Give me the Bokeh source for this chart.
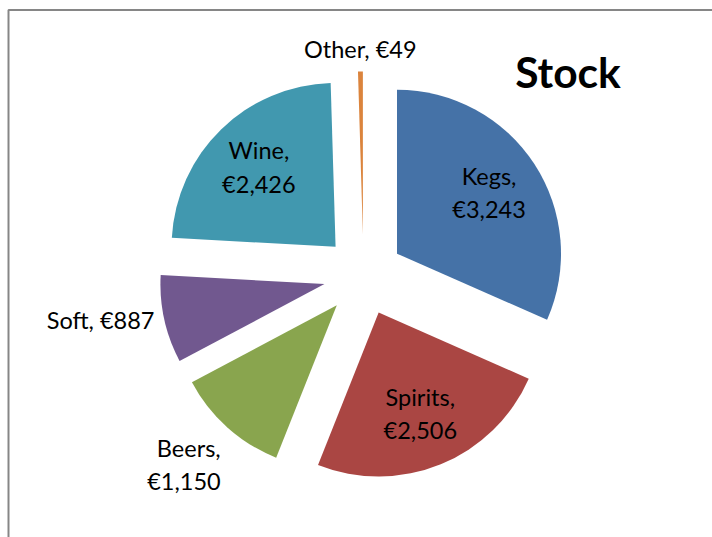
import math
from bokeh.plotting import figure
from bokeh.models import Range1d, ColumnDataSource
from bokeh.core.properties import value
from bokeh.embed import file_html
from bokeh.resources import INLINE

# ---- data ----
categories = ["Kegs", "Spirits", "Beers", "Soft", "Wine", "Other"]
values = [3243, 2506, 1150, 887, 2426, 49]
colors = ["#4572A7", "#AA4643", "#89A54E", "#71588F", "#4198AF", "#DB843D"]
title_text = "Stock"

# ---- layout (screen pixels, y downward) ----
W, H = 712, 537
CX, CY = 363.0, 275.0     # pie centre
R = 164.0                  # radius
EXPLODE = 40.0             # explosion distance
FONT = "Lato"
FS = "23.5px"
CAP = 15.6                 # cap height of label text
LS = 33.4                  # line spacing
GAP = 10.0                 # gap for outside labels
MID_SHIFT = 1.0            # "middle" baseline sits ~1px above cap centre

p = figure(width=W, height=H, output_backend="svg", toolbar_location=None,
           x_range=Range1d(0, W), y_range=Range1d(0, H), min_border=0)
p.axis.visible = False
p.grid.visible = False
p.outline_line_color = None
p.background_fill_color = "white"
p.border_fill_color = "white"


def Y(y):
    return H - y


# chart-area border (only left/top visible in the window)
p.line(x=[8, 8, W + 20], y=[Y(H + 20), Y(9.5), Y(9.5)], line_color="#868686", line_width=2)

total = float(sum(values))
xs, ys, starts, ends = [], [], [], []
cum = 0.0
labels = []
for cat, v in zip(categories, values):
    a0 = cum / total * 360.0
    cum += v
    a1 = cum / total * 360.0
    bis = math.radians((a0 + a1) / 2.0)
    ux, uy = math.sin(bis), -math.cos(bis)       # screen direction
    ax, ay = CX + EXPLODE * ux, CY + EXPLODE * uy  # slice apex
    xs.append(ax)
    ys.append(Y(ay))
    starts.append(math.radians(90.0 - a1))
    ends.append(math.radians(90.0 - a0))
    labels.append((cat, v, v / total, ax, ay, ux, uy))

src = ColumnDataSource(dict(x=xs, y=ys, start=starts, end=ends, color=colors))
p.wedge(x="x", y="y", radius=R, start_angle="start", end_angle="end",
        direction="anticlock", fill_color="color", line_color=None, source=src)

# labels
for cat, v, share, ax, ay, ux, uy in labels:
    full = f"{cat}, €{v:,}"
    lines = [f"{cat},", f"€{v:,}"] if len(full) > 11 else [full]
    n = len(lines)
    if share > 0.15:
        r = 0.67 * R
        px, py = ax + r * ux, ay + r * uy
        align = "center"
        mids = [py + (i - (n - 1) / 2.0) * LS for i in range(n)]
    else:
        px, py = ax + (R + GAP) * ux, ay + (R + GAP) * uy
        if abs(ux) < 0.3:
            align = "center"
        elif ux > 0:
            align = "left"
        else:
            align = "right"
        if uy < -0.3:      # upward: box bottom at point
            mids = [py - 4 - CAP / 2.0 - (n - 1 - i) * LS for i in range(n)]
        elif uy > 0.3:     # downward: box top at point
            mids = [py + 6 + CAP / 2.0 + i * LS for i in range(n)]
        else:
            mids = [py + (i - (n - 1) / 2.0) * LS for i in range(n)]
    p.text(x=[px] * n, y=[Y(m - MID_SHIFT) for m in mids], text=lines,
           text_font=value(FONT), text_font_size=value(FS), text_color="black",
           text_align=align, text_baseline="middle")

# title
p.text(x=[567.5], y=[Y(72 - 1.5)], text=[title_text], text_font=value(FONT),
       text_font_size=value("42.5px"), text_font_style="bold", text_color="black",
       text_align="center", text_baseline="middle")

open("out.html", "w").write(file_html(p, INLINE))
